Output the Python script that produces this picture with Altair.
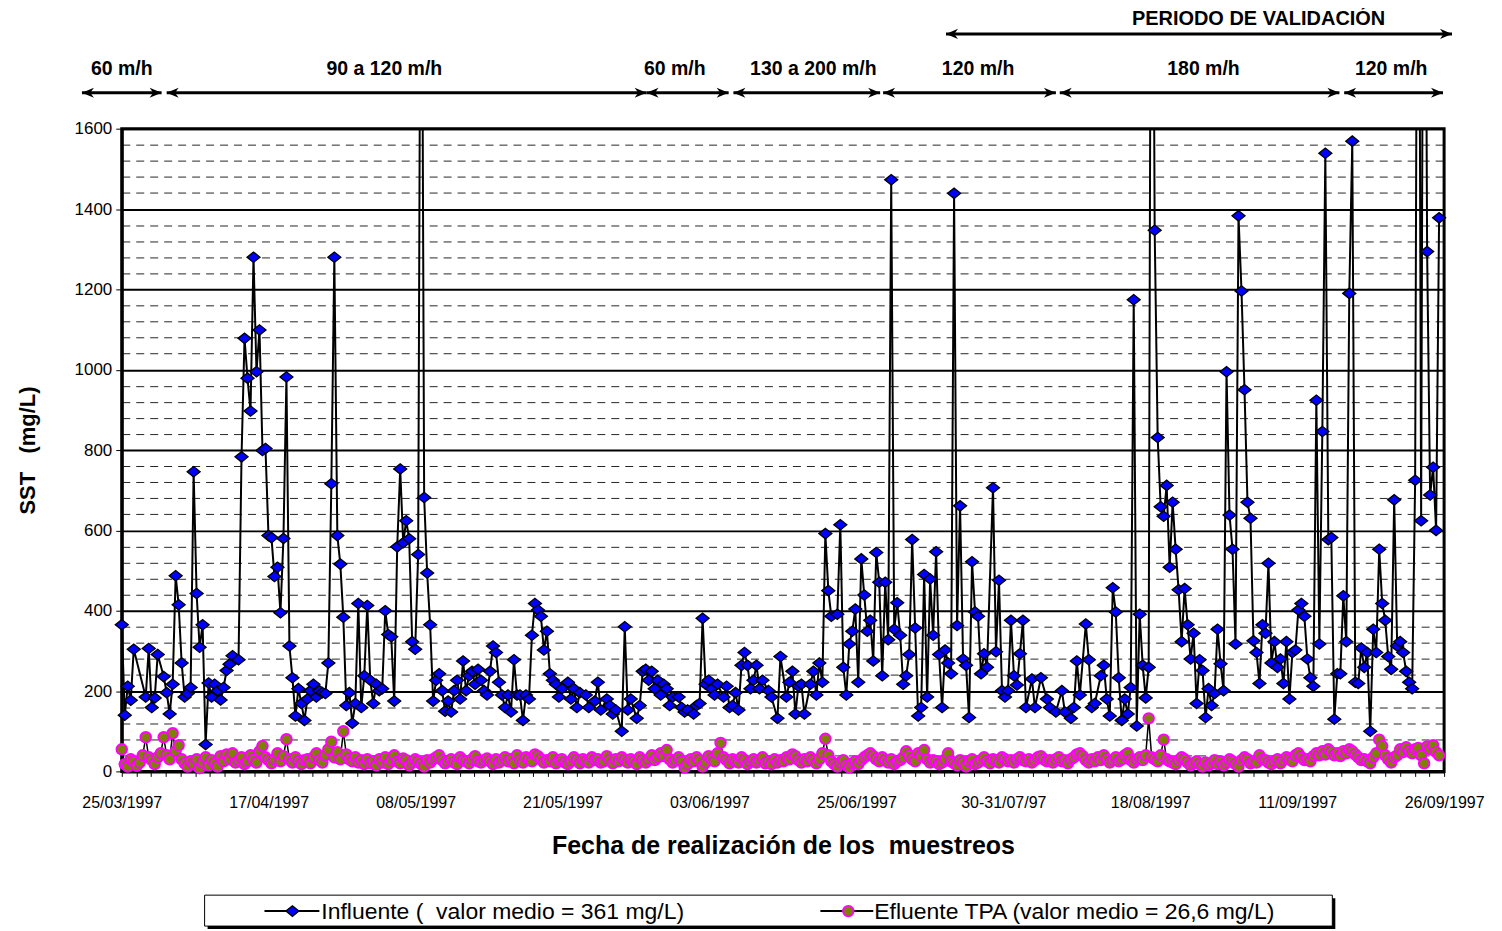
import altair as alt
import pandas as pd

N = None
FONT = "Liberation Sans"

# Influente SST (mg/L) per sample (None = marker not visible)
inf_v = [
    365, 140, 212, 177, 304, N, N, N, 185, 306, 159, 183, 291, N, 236, 196, 143, 217, 487, 415, 270,
    185, 194, 209, 746, 443, 309, 365, 67, 220, 185, 217, 201, 178, 209, 251, 267, 288, N, 278, 783, 1078,
    979, 897, 1280, 995, 1099, 799, 804, 587, 582, 485, 508, 395, 580, 982, 312, 233, 138, 206, 169, 127, 180,
    201, 217, 185, 201, 196, 194, 270, 716, 1280, 587, 516, 384, 164, 196, 120, 169, 418, 159, 238, 413, 227,
    169, 217, 201, 206, 400, 341, 335, 175, 559, 753, 569, 624, 579, 323, 304, 540, 2600, 682, 494, 365, 175,
    227, 243, 201, 150, 175, 148, 201, 227, 180, 275, 201, 238, 249, 217, 254, 227, 201, 190, 249, 312, 296,
    222, 190, 159, 190, 148, 278, 190, 190, 127, 190, 180, 339, 418, 402, 386, 302, 349, 243, 227, 217, 185,
    206, N, 222, 180, 206, 159, 196, N, 190, 159, N, 175, 222, 153, N, 180, 164, 143, 153, N, 100,
    360, 153, 180, N, 132, 164, 249, 254, 227, 249, 206, 227, 190, 217, 206, 164, 185, N, 185, 159, 148,
    153, N, 143, 164, 169, 381, 217, 227, 206, 190, 217, N, 185, 212, 159, 164, 196, 153, 264, 296, 264,
    206, 227, 264, 206, 227, N, 201, 185, N, 132, 286, N, 185, 222, 249, 143, 212, 217, 143, N, 217,
    249, 190, 270, 222, 592, 450, 386, N, 391, 614, 259, 190, 317, 349, 404, 222, 529, 439, 349, 376, 275,
    545, 471, 238, 471, 328, 1473, 354, 420, 339, 217, 238, 291, 577, 357, 138, 159, 490, 185, 479, 339, 547,
    291, 159, 302, 270, 243, 1439, 363, 661, 280, 264, 134, 522, 397, 386, 243, 293, 259, N, 706, 298, 476,
    201, 185, 201, 376, 238, 215, 293, 376, 159, N, 230, 159, N, 233, N, 180, 159, N, 148, N, 201,
    148, N, 132, 159, 275, 190, N, 367, 278, 159, 169, N, 238, 264, 180, 138, 457, 397, 233, 127, 180,
    143, 209, 1174, 113, 391, 264, 183, 259, 3000, 1347, 831, 659, 635, 712, 508, 670, 553, 452, 323, 455, 365,
    280, 344, 169, 278, 251, 134, 206, 164, 194, 354, 268, 201, 995, 638, 553, 317, 1383, 1196, 950, 670, 630,
    325, 296, 219, 365, 344, 518, 270, 323, 259, 280, 219, 323, 180, 296, 302, 402, 418, 386, 280, 233, 212,
    924, 317, 846, 1539, 577, 582, 130, 243, 243, 437, 323, 1190, 1569, 222, 219, 307, 259, 296, 100, 354, 296,
    553, 418, 376, 286, 254, 676, 312, 323, 296, 249, 222, 206, 725, 3000, 624, 3000, 1294, 688, 757, 600, 1378,
]

# Efluente TPA SST (mg/L) per sample
eff_v = [
    55, 18, 12, 30, 25, 14, 22, 40, 85, 35, 28, 18, 35, 45, 85, 40, 30, 95, 50, 65, 30,
    20, 12, 25, 18, 30, 8, 22, 35, 15, 28, 20, 12, 38, 25, 42, 30, 45, 22, 28, 35, 18,
    25, 40, 30, 22, 50, 63, 35, 28, 20, 30, 45, 25, 38, 80, 30, 22, 35, 25, 18, 28, 30,
    20, 35, 45, 28, 22, 40, 55, 74, 35, 48, 30, 100, 42, 30, 25, 35, 22, 28, 18, 30, 20,
    25, 15, 30, 22, 35, 18, 28, 40, 25, 20, 32, 28, 15, 22, 30, 25, 18, 12, 28, 22, 30,
    35, 40, 28, 20, 25, 30, 22, 18, 35, 28, 25, 20, 30, 38, 25, 22, 28, 32, 25, 18, 30,
    22, 28, 35, 25, 30, 20, 40, 28, 22, 35, 30, 25, 42, 38, 30, 22, 28, 25, 35, 20, 28,
    30, 22, 18, 25, 35, 28, 20, 30, 25, 22, 35, 28, 30, 22, 25, 38, 28, 20, 30, 25, 35,
    28, 22, 30, 25, 18, 35, 28, 22, 30, 40, 28, 35, 45, 38, 53, 30, 22, 28, 35, 25, 10,
    18, 30, 25, 35, 28, 12, 22, 38, 30, 25, 45, 71, 35, 28, 20, 30, 25, 22, 35, 28, 18,
    25, 30, 22, 28, 35, 20, 25, 18, 30, 22, 28, 25, 35, 30, 42, 38, 28, 22, 30, 25, 35,
    28, 20, 30, 45, 81, 40, 25, 18, 12, 22, 28, 15, 10, 20, 25, 18, 28, 35, 40, 45, 38,
    30, 25, 35, 28, 22, 30, 18, 25, 28, 35, 50, 40, 30, 25, 45, 38, 53, 30, 22, 28, 25,
    18, 22, 30, 45, 25, 20, 15, 28, 22, 12, 25, 30, 18, 22, 28, 35, 25, 20, 30, 28, 22,
    35, 30, 25, 28, 22, 30, 35, 28, 25, 30, 22, 28, 35, 38, 30, 25, 28, 22, 30, 35, 25,
    28, 20, 30, 35, 42, 45, 38, 28, 22, 30, 25, 35, 28, 40, 30, 22, 28, 35, 25, 30, 40,
    45, 28, 22, 30, 35, 28, 40, 132, 35, 30, 25, 40, 79, 30, 25, 22, 18, 28, 35, 30, 22,
    15, 20, 25, 18, 12, 22, 15, 20, 28, 18, 25, 15, 22, 30, 25, 18, 12, 28, 35, 30, 20,
    25, 22, 40, 30, 28, 22, 18, 25, 30, 20, 28, 35, 30, 25, 40, 45, 35, 28, 30, 25, 38,
    45, 40, 50, 42, 55, 48, 40, 45, 38, 50, 45, 55, 50, 42, 35, 28, 30, 25, 20, 35, 45,
    79, 63, 40, 30, 22, 35, 40, 55, 48, 60, 50, 45, 55, 58, 40, 20, 62, 55, 65, 48, 40,
]

x_labels = ["25/03/1997", "17/04/1997", "08/05/1997", "21/05/1997", "03/06/1997",
            "25/06/1997", "30-31/07/97", "18/08/1997", "11/09/1997", "26/09/1997"]

period_labels = ["60 m/h", "90 a 120 m/h", "60 m/h", "130 a 200 m/h", "120 m/h", "180 m/h", "120 m/h"]
period_start = [-13.3, 15.0, 175.3, 204.3, 254.3, 313.3, 408.3]
period_end = [13.3, 175.3, 202.7, 253.3, 312.0, 406.7, 441.3]
period_label_pos = [0, 87.7, 184.7, 231, 286, 361.3, 424]

valid_label = ["PERIODO DE VALIDACIÓN"]
valid_start = [275.3]
valid_end = [444.3]
valid_label_pos = [379.7]

XMAX = 441.67
n_idx = list(range(len(inf_v)))
df = pd.DataFrame({"n": n_idx, "inf": inf_v, "eff": eff_v})

XT = "Fecha de realización de los\u00a0 muestreos"
YT = "SST\u00a0\u00a0\u00a0(mg/L)"

step = XMAX / 9
tick_vals = [i * XMAX / 90 for i in range(91)]
lab_arr = "[" + ",".join("'" + s + "'" for s in x_labels) + "]"
label_expr = (f"abs(datum.value/{step} - round(datum.value/{step})) < 0.001 ? "
              f"{lab_arr}[round(datum.value/{step})] : ''")

x_axis = alt.Axis(values=tick_vals, labelExpr=label_expr, grid=False, tickSize=5,
                  tickColor="black", tickWidth=1, domainColor="black", domainWidth=3,
                  labelFont=FONT, labelFontSize=16, labelPadding=18, labelOverlap=False,
                  labelFlush=False, labelColor="black", titleFont=FONT, titleFontSize=25,
                  titleFontWeight="bold", titlePadding=23, titleColor="black")
is_major = "datum.value % 200 === 0"
y_axis = alt.Axis(values=list(range(0, 1601, 40)),
                  labelExpr=f"{is_major} ? format(datum.value, 'd') : ''",
                  grid=True, gridColor="black", labelOverlap=False,
                  gridWidth={"condition": {"test": is_major, "value": 2}, "value": 1},
                  gridDash={"condition": {"test": is_major, "value": []}, "value": [8, 6]},
                  gridOpacity={"condition": {"test": is_major, "value": 1}, "value": 0.85},
                  tickOpacity={"condition": {"test": is_major, "value": 1}, "value": 0},
                  tickSize=6, tickColor="black", domainColor="black", domainWidth=3,
                  labelFont=FONT, labelFontSize=17, labelPadding=4, labelColor="black",
                  titleFont=FONT, titleFontSize=22, titleFontWeight="bold", titlePadding=35,
                  titleColor="black")

xs = alt.Scale(domain=[0, XMAX], nice=False, zero=False)
ys = alt.Scale(domain=[0, 1600], nice=False)


def X(field):
    return alt.X(field, type="quantitative", scale=xs, axis=x_axis, title=XT)


def Y(field):
    return alt.Y(field, type="quantitative", scale=ys, axis=y_axis, title=YT)


base = alt.Chart(df)
inf_line = base.mark_line(color="black", strokeWidth=2, clip=True).encode(
    x=X("n"), y=Y("inf")
).transform_filter("isValid(datum.inf)")

DIAMOND = "M-1,0L0,-0.8L1,0L0,0.8Z"
inf_pts = base.mark_point(shape=DIAMOND, filled=True, fill="#0000FF", stroke="black",
                          strokeWidth=1.3, size=170, opacity=1).encode(
    x=X("n"), y=Y("inf")
).transform_filter("isValid(datum.inf) && datum.inf <= 1600")

eff_line = base.mark_line(color="black", strokeWidth=1.5).encode(x=X("n"), y=Y("eff"))
eff_pts = base.mark_point(shape="circle", filled=True, fill="#808000", stroke="#FF00FF",
                          strokeWidth=2, size=110, opacity=1).encode(x=X("n"), y=Y("eff"))

# period annotations above the plot
per_df = pd.DataFrame({"label": period_labels, "start": period_start,
                       "end": period_end, "lx": period_label_pos})
val_df = pd.DataFrame({"label": valid_label, "start": valid_start,
                       "end": valid_end, "lx": valid_label_pos})

HEAD_L = "M0,0L2,-0.85L1.4,0L2,0.85Z"
HEAD_R = "M0,0L-2,-0.85L-1.4,0L-2,0.85Z"


def arrow_layers(d, yv, ty, fs):
    rule = alt.Chart(d).mark_rule(color="black", strokeWidth=3).encode(
        x=X("start"), x2="end:Q", y=alt.value(yv))
    hl = alt.Chart(d).mark_point(shape=HEAD_L, filled=True, color="black", size=144,
                                 opacity=1).encode(x=X("start"), y=alt.value(yv))
    hr = alt.Chart(d).mark_point(shape=HEAD_R, filled=True, color="black", size=144,
                                 opacity=1).encode(x=X("end"), y=alt.value(yv))
    tx = alt.Chart(d).mark_text(font=FONT, fontSize=fs, fontWeight="bold", color="black",
                                align="center", baseline="middle").encode(
        x=X("lx"), y=alt.value(ty), text="label:N")
    return [rule, hl, hr, tx]


ann = arrow_layers(per_df, -36, -60, 19.5) + arrow_layers(val_df, -95, -110, 20)

# legend (drawn manually, Excel style box with shadow)
one = pd.DataFrame({"k": [0]})
leg_shadow = alt.Chart(one).mark_rect(color="black").encode(
    x=alt.value(86), x2=alt.value(1216), y=alt.value(771), y2=alt.value(802))
leg_box = alt.Chart(one).mark_rect(fill="white", stroke="black", strokeWidth=1).encode(
    x=alt.value(83), x2=alt.value(1213), y=alt.value(768), y2=alt.value(799))
leg_l1 = alt.Chart(one).mark_rule(color="black", strokeWidth=2).encode(
    x=alt.value(143), x2=alt.value(198), y=alt.value(784))
leg_p1 = alt.Chart(one).mark_point(shape=DIAMOND, filled=True, fill="#0000FF", stroke="black",
                                   strokeWidth=1.3, size=170, opacity=1).encode(
    x=alt.value(171), y=alt.value(784))
leg_t1 = alt.Chart(one).mark_text(font=FONT, fontSize=23, align="left", baseline="middle",
                                  color="black").encode(
    x=alt.value(200), y=alt.value(785), text=alt.value("Influente (\u00a0 valor medio = 361 mg/L)"))
leg_l2 = alt.Chart(one).mark_rule(color="black", strokeWidth=2).encode(
    x=alt.value(700), x2=alt.value(753), y=alt.value(784))
leg_p2 = alt.Chart(one).mark_point(shape="circle", filled=True, fill="#808000", stroke="#FF00FF",
                                   strokeWidth=2, size=110, opacity=1).encode(
    x=alt.value(728), y=alt.value(784))
leg_t2 = alt.Chart(one).mark_text(font=FONT, fontSize=23, align="left", baseline="middle",
                                  color="black").encode(
    x=alt.value(754), y=alt.value(785), text=alt.value("Efluente TPA (valor medio = 26,6 mg/L)"))

chart = alt.layer(
    inf_line, inf_pts, eff_line, eff_pts, *ann,
    leg_shadow, leg_box, leg_l1, leg_p1, leg_t1, leg_l2, leg_p2, leg_t2,
).properties(
    width=1325, height=644,
    autosize=alt.AutoSizeParams(type="none"),
    padding={"left": 114, "top": 120, "right": 50, "bottom": 159},
    background="white",
).configure_view(
    stroke="black", strokeWidth=3
)

chart.save("out.html", embed_options={"renderer": "svg", "actions": False})
